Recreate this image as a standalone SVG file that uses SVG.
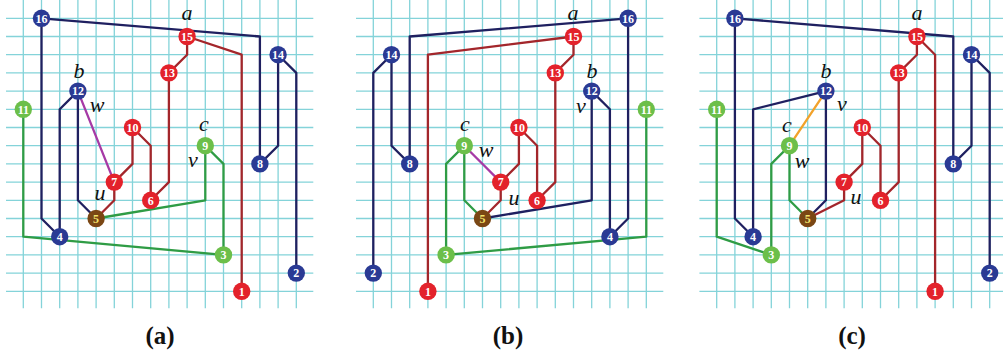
<svg xmlns="http://www.w3.org/2000/svg" xmlns:xlink="http://www.w3.org/1999/xlink" width="1003" height="358" viewBox="0 0 1003 358">
<style>
.grid{stroke:#84d3d9;stroke-width:1.3;fill:none}
.e{fill:none;stroke-width:2.3;stroke-linejoin:round;stroke-linecap:round}
.nv{stroke:#1f2060}
.rd{stroke:#a3262b}
.gr{stroke:#2f9c45}
.mg{stroke:#a63aa6}
.or{stroke:#f2a22a}
.nb circle{fill:#2a3a94}
.nr circle{fill:#e3222b}
.ng circle{fill:#6cbf4a}
.nn circle{fill:#7a4714}
.node text{font-family:"Liberation Serif","DejaVu Serif",serif;font-weight:bold;font-size:12px;fill:#fff;text-anchor:middle}
.nn text{fill:#f3e36a}
.lb{font-family:"Liberation Serif","DejaVu Serif",serif;font-style:italic;font-size:22px;fill:#111;text-anchor:middle}
.cap{font-family:"Liberation Serif","DejaVu Serif",serif;font-weight:bold;font-size:25px;fill:#111;text-anchor:middle}
</style>
<defs>
<path id="grid" class="grid" d="M0,-18.3V290M18.2,-18.3V290M36.4,-18.3V290M54.6,-18.3V290M72.8,-18.3V290M91,-18.3V290M109.2,-18.3V290M127.4,-18.3V290M145.6,-18.3V290M163.8,-18.3V290M182,-18.3V290M200.2,-18.3V290M218.4,-18.3V290M236.6,-18.3V290M254.8,-18.3V290M273,-18.3V290M-17.3,0H290M-17.3,18.2H290M-17.3,36.4H290M-17.3,54.6H290M-17.3,72.8H290M-17.3,91H290M-17.3,109.2H290M-17.3,127.4H290M-17.3,145.6H290M-17.3,163.8H290M-17.3,182H290M-17.3,200.2H290M-17.3,218.4H290M-17.3,236.6H290M-17.3,254.8H290M-17.3,273H290"/>
</defs>
<rect width="1003" height="358" fill="#fff"/>

<!-- Panel (a) -->
<g id="panel-a" transform="translate(23.3,18.3)">
<use xlink:href="#grid"/>
<g id="a-connectors">
<path class="e nv" d="M18.2,0L236.6,18.2L236.6,145.6"/>
<path class="e nv" d="M18.2,0L18.2,200.2L36.4,218.4"/>
<path class="e nv" d="M254.8,36.4L273,54.6L273,254.8"/>
<path class="e nv" d="M254.8,36.4L254.8,127.4L236.6,145.6"/>
<path class="e nv" d="M54.6,72.8L36.4,91L36.4,218.4"/>
<path class="e nv" d="M54.6,72.8L54.6,182L72.8,200.2"/>
<path class="e rd" d="M163.8,18.2L218.4,36.4L218.4,273"/>
<path class="e rd" d="M163.8,18.2L163.8,36.4L145.6,54.6"/>
<path class="e rd" d="M145.6,54.6L145.6,163.8L127.4,182"/>
<path class="e rd" d="M109.2,109.2L127.4,127.4L127.4,182"/>
<path class="e rd" d="M109.2,109.2L109.2,145.6L91,163.8"/>
<path class="e rd" d="M91,163.8L91,182L72.8,200.2"/>
<path class="e gr" d="M0,91L0,218.4L200.2,236.6"/>
<path class="e gr" d="M182,127.4L200.2,145.6L200.2,236.6"/>
<path class="e gr" d="M182,127.4L182,182L72.8,200.2"/>
<path class="e mg" d="M54.6,72.8L91,163.8"/>
</g>
<g id="a-n1" class="node nr"><circle cx="218.4" cy="273" r="8.7"/><text x="218.4" y="277.3">1</text></g>
<g id="a-n2" class="node nb"><circle cx="273" cy="254.8" r="8.7"/><text x="273" y="259.1">2</text></g>
<g id="a-n3" class="node ng"><circle cx="200.2" cy="236.6" r="8.7"/><text x="200.2" y="240.9">3</text></g>
<g id="a-n4" class="node nb"><circle cx="36.4" cy="218.4" r="8.7"/><text x="36.4" y="222.7">4</text></g>
<g id="a-n5" class="node nn"><circle cx="72.8" cy="200.2" r="8.7"/><text x="72.8" y="204.5">5</text></g>
<g id="a-n6" class="node nr"><circle cx="127.4" cy="182" r="8.7"/><text x="127.4" y="186.3">6</text></g>
<g id="a-n7" class="node nr"><circle cx="91" cy="163.8" r="8.7"/><text x="91" y="168.1">7</text></g>
<g id="a-n8" class="node nb"><circle cx="236.6" cy="145.6" r="8.7"/><text x="236.6" y="149.9">8</text></g>
<g id="a-n9" class="node ng"><circle cx="182" cy="127.4" r="8.7"/><text x="182" y="131.7">9</text></g>
<g id="a-n10" class="node nr"><circle cx="109.2" cy="109.2" r="8.7"/><text x="109.2" y="113.5">10</text></g>
<g id="a-n11" class="node ng"><circle cx="0" cy="91" r="8.7"/><text x="0" y="95.3">11</text></g>
<g id="a-n12" class="node nb"><circle cx="54.6" cy="72.8" r="8.7"/><text x="54.6" y="77.1">12</text></g>
<g id="a-n13" class="node nr"><circle cx="145.6" cy="54.6" r="8.7"/><text x="145.6" y="58.9">13</text></g>
<g id="a-n14" class="node nb"><circle cx="254.8" cy="36.4" r="8.7"/><text x="254.8" y="40.7">14</text></g>
<g id="a-n15" class="node nr"><circle cx="163.8" cy="18.2" r="8.7"/><text x="163.8" y="22.5">15</text></g>
<g id="a-n16" class="node nb"><circle cx="18.2" cy="0" r="8.7"/><text x="18.2" y="4.3">16</text></g>
</g>
<g id="a-labels">
<text class="lb" x="187" y="20">a</text>
<text class="lb" x="79" y="78">b</text>
<text class="lb" x="97" y="112">w</text>
<text class="lb" x="204" y="131">c</text>
<text class="lb" x="193" y="167">v</text>
<text class="lb" x="100" y="200">u</text>
<text class="cap" x="160" y="344">(a)</text>
</g>

<!-- Panel (b) -->
<g id="panel-b" transform="translate(373.3,18.3)">
<use xlink:href="#grid"/>
<g id="b-connectors">
<path class="e nv" d="M254.8,0L36.4,18.2L36.4,145.6"/>
<path class="e nv" d="M254.8,0L254.8,200.2L236.6,218.4"/>
<path class="e nv" d="M18.2,36.4L0,54.6L0,254.8"/>
<path class="e nv" d="M18.2,36.4L18.2,127.4L36.4,145.6"/>
<path class="e nv" d="M218.4,72.8L236.6,91L236.6,218.4"/>
<path class="e nv" d="M218.4,72.8L218.4,182L109.2,200.2"/>
<path class="e rd" d="M200.2,18.2L54.6,36.4L54.6,273"/>
<path class="e rd" d="M200.2,18.2L200.2,36.4L182,54.6"/>
<path class="e rd" d="M182,54.6L182,163.8L163.8,182"/>
<path class="e rd" d="M145.6,109.2L163.8,127.4L163.8,182"/>
<path class="e rd" d="M145.6,109.2L145.6,145.6L127.4,163.8"/>
<path class="e rd" d="M127.4,163.8L127.4,182L109.2,200.2"/>
<path class="e gr" d="M273,91L273,218.4L72.8,236.6"/>
<path class="e gr" d="M91,127.4L72.8,145.6L72.8,236.6"/>
<path class="e gr" d="M91,127.4L91,182L109.2,200.2"/>
<path class="e mg" d="M91,127.4L127.4,163.8"/>
</g>
<g id="b-n1" class="node nr"><circle cx="54.6" cy="273" r="8.7"/><text x="54.6" y="277.3">1</text></g>
<g id="b-n2" class="node nb"><circle cx="0" cy="254.8" r="8.7"/><text x="0" y="259.1">2</text></g>
<g id="b-n3" class="node ng"><circle cx="72.8" cy="236.6" r="8.7"/><text x="72.8" y="240.9">3</text></g>
<g id="b-n4" class="node nb"><circle cx="236.6" cy="218.4" r="8.7"/><text x="236.6" y="222.7">4</text></g>
<g id="b-n5" class="node nn"><circle cx="109.2" cy="200.2" r="8.7"/><text x="109.2" y="204.5">5</text></g>
<g id="b-n6" class="node nr"><circle cx="163.8" cy="182" r="8.7"/><text x="163.8" y="186.3">6</text></g>
<g id="b-n7" class="node nr"><circle cx="127.4" cy="163.8" r="8.7"/><text x="127.4" y="168.1">7</text></g>
<g id="b-n8" class="node nb"><circle cx="36.4" cy="145.6" r="8.7"/><text x="36.4" y="149.9">8</text></g>
<g id="b-n9" class="node ng"><circle cx="91" cy="127.4" r="8.7"/><text x="91" y="131.7">9</text></g>
<g id="b-n10" class="node nr"><circle cx="145.6" cy="109.2" r="8.7"/><text x="145.6" y="113.5">10</text></g>
<g id="b-n11" class="node ng"><circle cx="273" cy="91" r="8.7"/><text x="273" y="95.3">11</text></g>
<g id="b-n12" class="node nb"><circle cx="218.4" cy="72.8" r="8.7"/><text x="218.4" y="77.1">12</text></g>
<g id="b-n13" class="node nr"><circle cx="182" cy="54.6" r="8.7"/><text x="182" y="58.9">13</text></g>
<g id="b-n14" class="node nb"><circle cx="18.2" cy="36.4" r="8.7"/><text x="18.2" y="40.7">14</text></g>
<g id="b-n15" class="node nr"><circle cx="200.2" cy="18.2" r="8.7"/><text x="200.2" y="22.5">15</text></g>
<g id="b-n16" class="node nb"><circle cx="254.8" cy="0" r="8.7"/><text x="254.8" y="4.3">16</text></g>
</g>
<g id="b-labels">
<text class="lb" x="573" y="20">a</text>
<text class="lb" x="592" y="78">b</text>
<text class="lb" x="581" y="113">v</text>
<text class="lb" x="465" y="131">c</text>
<text class="lb" x="486" y="157">w</text>
<text class="lb" x="514" y="205">u</text>
<text class="cap" x="508" y="344">(b)</text>
</g>

<!-- Panel (c) -->
<g id="panel-c" transform="translate(716.7,18.3)">
<use xlink:href="#grid"/>
<g id="c-connectors">
<path class="e nv" d="M18.2,0L236.6,18.2L236.6,145.6"/>
<path class="e nv" d="M18.2,0L18.2,200.2L36.4,218.4"/>
<path class="e nv" d="M254.8,36.4L273,54.6L273,254.8"/>
<path class="e nv" d="M254.8,36.4L254.8,127.4L236.6,145.6"/>
<path class="e nv" d="M109.2,72.8L36.4,91L36.4,218.4"/>
<path class="e nv" d="M109.2,72.8L109.2,182L91,200.2"/>
<path class="e rd" d="M200.2,18.2L218.4,36.4L218.4,273"/>
<path class="e rd" d="M200.2,18.2L200.2,36.4L182,54.6"/>
<path class="e rd" d="M182,54.6L182,163.8L163.8,182"/>
<path class="e rd" d="M145.6,109.2L163.8,127.4L163.8,182"/>
<path class="e rd" d="M145.6,109.2L145.6,145.6L127.4,163.8"/>
<path class="e rd" d="M127.4,163.8L127.4,182L91,200.2"/>
<path class="e gr" d="M0,91L0,218.4L54.6,236.6"/>
<path class="e gr" d="M72.8,127.4L54.6,145.6L54.6,236.6"/>
<path class="e gr" d="M72.8,127.4L72.8,182L91,200.2"/>
<path class="e or" d="M109.2,72.8L72.8,127.4"/>
</g>
<g id="c-n1" class="node nr"><circle cx="218.4" cy="273" r="8.7"/><text x="218.4" y="277.3">1</text></g>
<g id="c-n2" class="node nb"><circle cx="273" cy="254.8" r="8.7"/><text x="273" y="259.1">2</text></g>
<g id="c-n3" class="node ng"><circle cx="54.6" cy="236.6" r="8.7"/><text x="54.6" y="240.9">3</text></g>
<g id="c-n4" class="node nb"><circle cx="36.4" cy="218.4" r="8.7"/><text x="36.4" y="222.7">4</text></g>
<g id="c-n5" class="node nn"><circle cx="91" cy="200.2" r="8.7"/><text x="91" y="204.5">5</text></g>
<g id="c-n6" class="node nr"><circle cx="163.8" cy="182" r="8.7"/><text x="163.8" y="186.3">6</text></g>
<g id="c-n7" class="node nr"><circle cx="127.4" cy="163.8" r="8.7"/><text x="127.4" y="168.1">7</text></g>
<g id="c-n8" class="node nb"><circle cx="236.6" cy="145.6" r="8.7"/><text x="236.6" y="149.9">8</text></g>
<g id="c-n9" class="node ng"><circle cx="72.8" cy="127.4" r="8.7"/><text x="72.8" y="131.7">9</text></g>
<g id="c-n10" class="node nr"><circle cx="145.6" cy="109.2" r="8.7"/><text x="145.6" y="113.5">10</text></g>
<g id="c-n11" class="node ng"><circle cx="0" cy="91" r="8.7"/><text x="0" y="95.3">11</text></g>
<g id="c-n12" class="node nb"><circle cx="109.2" cy="72.8" r="8.7"/><text x="109.2" y="77.1">12</text></g>
<g id="c-n13" class="node nr"><circle cx="182" cy="54.6" r="8.7"/><text x="182" y="58.9">13</text></g>
<g id="c-n14" class="node nb"><circle cx="254.8" cy="36.4" r="8.7"/><text x="254.8" y="40.7">14</text></g>
<g id="c-n15" class="node nr"><circle cx="200.2" cy="18.2" r="8.7"/><text x="200.2" y="22.5">15</text></g>
<g id="c-n16" class="node nb"><circle cx="18.2" cy="0" r="8.7"/><text x="18.2" y="4.3">16</text></g>
</g>
<g id="c-labels">
<text class="lb" x="917" y="20">a</text>
<text class="lb" x="826" y="78">b</text>
<text class="lb" x="842" y="111">v</text>
<text class="lb" x="787" y="132">c</text>
<text class="lb" x="802" y="168">w</text>
<text class="lb" x="856" y="204">u</text>
<text class="cap" x="852" y="344">(c)</text>
</g>
</svg>
